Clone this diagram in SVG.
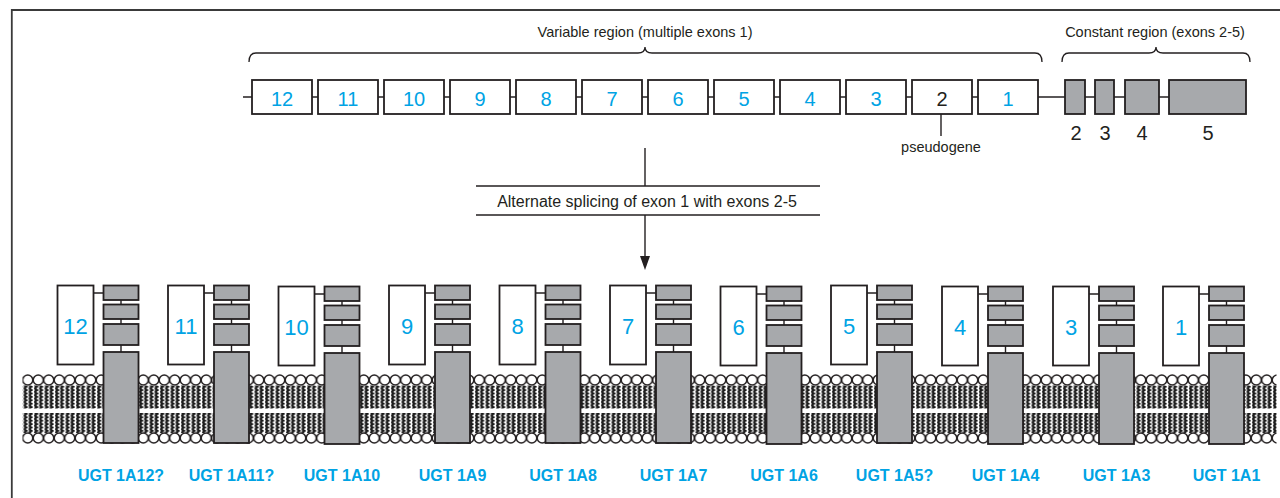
<svg xmlns="http://www.w3.org/2000/svg" width="1280" height="498" viewBox="0 0 1280 498">
  <defs>
    <style>
      .frame { fill: none; stroke: #3a3a3a; stroke-width: 1.8; }
      .wire { fill: none; stroke: #231f20; stroke-width: 1.4; }
      .brace { fill: none; stroke: #231f20; stroke-width: 1.3; }
      .exon { fill: #ffffff; stroke: #231f20; stroke-width: 1.8; }
      .const { fill: #a7a9ac; stroke: #231f20; stroke-width: 1.8; }
      .blue { fill: #00a3e4; font-family: "Liberation Sans", Arial, sans-serif; text-anchor: middle; }
      .dark { fill: #231f20; font-family: "Liberation Sans", Arial, sans-serif; text-anchor: middle; }
      .num { font-size: 20px; }
      .bignum { font-size: 22px; }
      .cap { font-size: 14.5px; }
      .name { font-size: 16px; font-weight: bold; }
      .head { fill: #ffffff; stroke: #231f20; stroke-width: 1.4; }
      .tail { fill: none; stroke: #1a1a1a; stroke-width: 2; }
    </style>
    <!-- lipid head groups -->
    <pattern id="heads" patternUnits="userSpaceOnUse" x="22.5" y="0" width="10.5" height="498">
      <circle class="head" cx="5.25" cy="380" r="5"/>
      <circle class="head" cx="5.25" cy="438" r="5"/>
    </pattern>
    <!-- fatty acid tails, two wavy chains per lipid -->
    <pattern id="tails" patternUnits="userSpaceOnUse" x="22.5" y="385" width="10.5" height="3.4">
      <path class="tail" d="M1.4,0 L4.0,1.7 L1.4,3.4"/>
      <path class="tail" d="M6.4,0 L9.0,1.7 L6.4,3.4"/>
    </pattern>
  </defs>

  <rect width="1280" height="498" fill="#ffffff"/>

  <!-- page frame -->
  <path class="frame" d="M11.8,498 L11.8,10 L1280,10"/>

  <!-- region captions and braces -->
  <g id="variable-region">
    <text class="dark cap" x="645" y="37">Variable region (multiple exons 1)</text>
    <path class="brace" d="M249,62 Q249,53 256,53 L638,53 Q645,53 645,47 Q645,53 652,53 L1035,53 Q1042,53 1042,62"/>
  </g>
  <g id="constant-region">
    <text class="dark cap" x="1155" y="37">Constant region (exons 2-5)</text>
    <path class="brace" d="M1062,62 Q1062,53 1069,53 L1149,53 Q1156,53 1156,47 Q1156,53 1163,53 L1243,53 Q1250,53 1250,62"/>
  </g>

  <!-- gene connectors -->
  <g id="connectors">
    <line class="wire" x1="243" y1="97" x2="1169" y2="97"/>
    <line class="wire" x1="941" y1="114" x2="941" y2="136"/>
    <line class="wire" x1="645" y1="148" x2="645" y2="186"/>
    <line class="wire" x1="645" y1="215" x2="645" y2="258"/>
    <polygon points="640,256 650,256 645,270" fill="#231f20"/>
    <line class="wire" x1="476" y1="186" x2="820" y2="186"/>
    <line class="wire" x1="476" y1="215" x2="820" y2="215"/>
  </g>

  <!-- variable exons 1 -->
  <g id="exon-12"><rect class="exon" x="252" y="80" width="60" height="34"/><text class="blue num" x="282" y="106">12</text></g>
  <g id="exon-11"><rect class="exon" x="318" y="80" width="60" height="34"/><text class="blue num" x="348" y="106">11</text></g>
  <g id="exon-10"><rect class="exon" x="384" y="80" width="60" height="34"/><text class="blue num" x="414" y="106">10</text></g>
  <g id="exon-9"><rect class="exon" x="450" y="80" width="60" height="34"/><text class="blue num" x="480" y="106">9</text></g>
  <g id="exon-8"><rect class="exon" x="516" y="80" width="60" height="34"/><text class="blue num" x="546" y="106">8</text></g>
  <g id="exon-7"><rect class="exon" x="582" y="80" width="60" height="34"/><text class="blue num" x="612" y="106">7</text></g>
  <g id="exon-6"><rect class="exon" x="648" y="80" width="60" height="34"/><text class="blue num" x="678" y="106">6</text></g>
  <g id="exon-5"><rect class="exon" x="714" y="80" width="60" height="34"/><text class="blue num" x="744" y="106">5</text></g>
  <g id="exon-4"><rect class="exon" x="780" y="80" width="60" height="34"/><text class="blue num" x="810" y="106">4</text></g>
  <g id="exon-3"><rect class="exon" x="846" y="80" width="60" height="34"/><text class="blue num" x="876" y="106">3</text></g>
  <g id="exon-2-pseudogene"><rect class="exon" x="912" y="80" width="60" height="34"/><text class="dark num" x="942" y="106">2</text><text class="dark" x="941" y="152" font-size="14.5">pseudogene</text></g>
  <g id="exon-1"><rect class="exon" x="978" y="80" width="60" height="34"/><text class="blue num" x="1008" y="106">1</text></g>

  <!-- constant exons 2-5 -->
  <g id="const-2"><rect class="const" x="1065" y="80" width="20" height="34"/><text class="dark num" x="1076" y="140">2</text></g>
  <g id="const-3"><rect class="const" x="1095" y="80" width="19" height="34"/><text class="dark num" x="1105" y="140">3</text></g>
  <g id="const-4"><rect class="const" x="1125" y="80" width="34" height="34"/><text class="dark num" x="1142" y="140">4</text></g>
  <g id="const-5"><rect class="const" x="1169" y="80" width="77" height="34"/><text class="dark num" x="1208" y="140">5</text></g>

  <!-- splicing step -->
  <g id="splicing">
    <text class="dark" x="647" y="207" font-size="16">Alternate splicing of exon 1 with exons 2-5</text>
  </g>

  <!-- lipid bilayer -->
  <g id="membrane">
    <rect x="22.5" y="385.5" width="1254" height="23" fill="url(#tails)"/>
    <rect x="22.5" y="413" width="1254" height="20" fill="url(#tails)"/>
    <rect x="22.5" y="374" width="1254" height="70" fill="url(#heads)"/>
  </g>

  <!-- UGT1A proteins: exon 1 domain + constant exons 2-5, anchored in membrane -->
  <g id="ugt-1a12" transform="translate(57.5,0)">
    <rect class="exon" x="0" y="285.5" width="36" height="79"/>
    <path class="wire" d="M36,293 H46 M63.5,300 V305 M63.5,319 V324 M63.5,345 V352"/>
    <rect class="const" x="46" y="285.5" width="35" height="14.5"/><rect class="const" x="46" y="304.5" width="35" height="14.5"/><rect class="const" x="46" y="324" width="35" height="21"/><rect class="const" x="46" y="352" width="35" height="91"/>
    <text class="blue bignum" x="18" y="334">12</text>
    <text class="blue name" x="63.5" y="481">UGT 1A12?</text>
  </g>
  <g id="ugt-1a11" transform="translate(168,0)">
    <rect class="exon" x="0" y="285.5" width="36" height="79"/>
    <path class="wire" d="M36,293 H46 M63.5,300 V305 M63.5,319 V324 M63.5,345 V352"/>
    <rect class="const" x="46" y="285.5" width="35" height="14.5"/><rect class="const" x="46" y="304.5" width="35" height="14.5"/><rect class="const" x="46" y="324" width="35" height="21"/><rect class="const" x="46" y="352" width="35" height="91"/>
    <text class="blue bignum" x="18" y="334">11</text>
    <text class="blue name" x="63.5" y="481">UGT 1A11?</text>
  </g>
  <g id="ugt-1a10" transform="translate(278.5,1)">
    <rect class="exon" x="0" y="285.5" width="36" height="79"/>
    <path class="wire" d="M36,293 H46 M63.5,300 V305 M63.5,319 V324 M63.5,345 V352"/>
    <rect class="const" x="46" y="285.5" width="35" height="14.5"/><rect class="const" x="46" y="304.5" width="35" height="14.5"/><rect class="const" x="46" y="324" width="35" height="21"/><rect class="const" x="46" y="352" width="35" height="91"/>
    <text class="blue bignum" x="18" y="334">10</text>
    <text class="blue name" x="63.5" y="480">UGT 1A10</text>
  </g>
  <g id="ugt-1a9" transform="translate(389,0)">
    <rect class="exon" x="0" y="285.5" width="36" height="79"/>
    <path class="wire" d="M36,293 H46 M63.5,300 V305 M63.5,319 V324 M63.5,345 V352"/>
    <rect class="const" x="46" y="285.5" width="35" height="14.5"/><rect class="const" x="46" y="304.5" width="35" height="14.5"/><rect class="const" x="46" y="324" width="35" height="21"/><rect class="const" x="46" y="352" width="35" height="91"/>
    <text class="blue bignum" x="18" y="334">9</text>
    <text class="blue name" x="63.5" y="481">UGT 1A9</text>
  </g>
  <g id="ugt-1a8" transform="translate(499.5,0)">
    <rect class="exon" x="0" y="285.5" width="36" height="79"/>
    <path class="wire" d="M36,293 H46 M63.5,300 V305 M63.5,319 V324 M63.5,345 V352"/>
    <rect class="const" x="46" y="285.5" width="35" height="14.5"/><rect class="const" x="46" y="304.5" width="35" height="14.5"/><rect class="const" x="46" y="324" width="35" height="21"/><rect class="const" x="46" y="352" width="35" height="91"/>
    <text class="blue bignum" x="18" y="334">8</text>
    <text class="blue name" x="63.5" y="481">UGT 1A8</text>
  </g>
  <g id="ugt-1a7" transform="translate(610,0)">
    <rect class="exon" x="0" y="285.5" width="36" height="79"/>
    <path class="wire" d="M36,293 H46 M63.5,300 V305 M63.5,319 V324 M63.5,345 V352"/>
    <rect class="const" x="46" y="285.5" width="35" height="14.5"/><rect class="const" x="46" y="304.5" width="35" height="14.5"/><rect class="const" x="46" y="324" width="35" height="21"/><rect class="const" x="46" y="352" width="35" height="91"/>
    <text class="blue bignum" x="18" y="334">7</text>
    <text class="blue name" x="63.5" y="481">UGT 1A7</text>
  </g>
  <g id="ugt-1a6" transform="translate(720.5,1)">
    <rect class="exon" x="0" y="285.5" width="36" height="79"/>
    <path class="wire" d="M36,293 H46 M63.5,300 V305 M63.5,319 V324 M63.5,345 V352"/>
    <rect class="const" x="46" y="285.5" width="35" height="14.5"/><rect class="const" x="46" y="304.5" width="35" height="14.5"/><rect class="const" x="46" y="324" width="35" height="21"/><rect class="const" x="46" y="352" width="35" height="91"/>
    <text class="blue bignum" x="18" y="334">6</text>
    <text class="blue name" x="63.5" y="480">UGT 1A6</text>
  </g>
  <g id="ugt-1a5" transform="translate(831,0)">
    <rect class="exon" x="0" y="285.5" width="36" height="79"/>
    <path class="wire" d="M36,293 H46 M63.5,300 V305 M63.5,319 V324 M63.5,345 V352"/>
    <rect class="const" x="46" y="285.5" width="35" height="14.5"/><rect class="const" x="46" y="304.5" width="35" height="14.5"/><rect class="const" x="46" y="324" width="35" height="21"/><rect class="const" x="46" y="352" width="35" height="91"/>
    <text class="blue bignum" x="18" y="334">5</text>
    <text class="blue name" x="63.5" y="481">UGT 1A5?</text>
  </g>
  <g id="ugt-1a4" transform="translate(942,1)">
    <rect class="exon" x="0" y="285.5" width="36" height="79"/>
    <path class="wire" d="M36,293 H46 M63.5,300 V305 M63.5,319 V324 M63.5,345 V352"/>
    <rect class="const" x="46" y="285.5" width="35" height="14.5"/><rect class="const" x="46" y="304.5" width="35" height="14.5"/><rect class="const" x="46" y="324" width="35" height="21"/><rect class="const" x="46" y="352" width="35" height="91"/>
    <text class="blue bignum" x="18" y="334">4</text>
    <text class="blue name" x="63.5" y="480">UGT 1A4</text>
  </g>
  <g id="ugt-1a3" transform="translate(1053,1)">
    <rect class="exon" x="0" y="285.5" width="36" height="79"/>
    <path class="wire" d="M36,293 H46 M63.5,300 V305 M63.5,319 V324 M63.5,345 V352"/>
    <rect class="const" x="46" y="285.5" width="35" height="14.5"/><rect class="const" x="46" y="304.5" width="35" height="14.5"/><rect class="const" x="46" y="324" width="35" height="21"/><rect class="const" x="46" y="352" width="35" height="91"/>
    <text class="blue bignum" x="18" y="334">3</text>
    <text class="blue name" x="63.5" y="480">UGT 1A3</text>
  </g>
  <g id="ugt-1a1" transform="translate(1163,1)">
    <rect class="exon" x="0" y="285.5" width="36" height="79"/>
    <path class="wire" d="M36,293 H46 M63.5,300 V305 M63.5,319 V324 M63.5,345 V352"/>
    <rect class="const" x="46" y="285.5" width="35" height="14.5"/><rect class="const" x="46" y="304.5" width="35" height="14.5"/><rect class="const" x="46" y="324" width="35" height="21"/><rect class="const" x="46" y="352" width="35" height="91"/>
    <text class="blue bignum" x="18" y="334">1</text>
    <text class="blue name" x="63.5" y="480">UGT 1A1</text>
  </g>
</svg>
